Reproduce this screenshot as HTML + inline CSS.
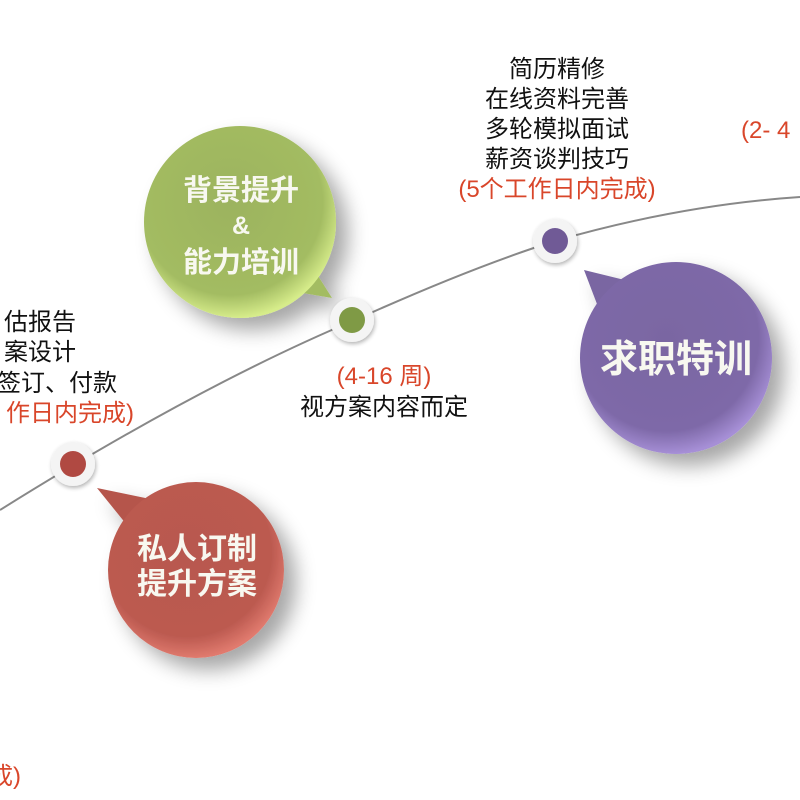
<!DOCTYPE html>
<html><head><meta charset="utf-8"><style>
html,body{margin:0;padding:0;background:#fff;width:800px;height:800px;overflow:hidden}
svg text{font-family:"Liberation Sans","Noto Sans CJK SC",sans-serif}
</style></head><body>
<svg width="800" height="800" viewBox="0 0 800 800" xmlns="http://www.w3.org/2000/svg">
<defs>
<radialGradient id="gr" cx="45%" cy="40%" r="60%"><stop offset="0" stop-color="#b8594f"/><stop offset="0.8" stop-color="#bc5a50"/><stop offset="1" stop-color="#e07a6e"/></radialGradient>
<radialGradient id="gg" cx="45%" cy="40%" r="60%"><stop offset="0" stop-color="#9cb35e"/><stop offset="0.8" stop-color="#a3bc62"/><stop offset="1" stop-color="#d6ec8a"/></radialGradient>
<radialGradient id="gp" cx="45%" cy="40%" r="60%"><stop offset="0" stop-color="#7a66a2"/><stop offset="0.8" stop-color="#7e69a8"/><stop offset="1" stop-color="#a68fd6"/></radialGradient>
<filter id="sh" x="-30%" y="-30%" width="170%" height="170%"><feGaussianBlur in="SourceAlpha" stdDeviation="10"/><feOffset dx="12" dy="12"/><feComponentTransfer><feFuncA type="linear" slope="0.35"/></feComponentTransfer><feMerge><feMergeNode/><feMergeNode in="SourceGraphic"/></feMerge></filter>
<filter id="ds" x="-50%" y="-50%" width="200%" height="200%"><feGaussianBlur in="SourceAlpha" stdDeviation="2"/><feOffset dx="1" dy="2"/><feComponentTransfer><feFuncA type="linear" slope="0.3"/></feComponentTransfer><feMerge><feMergeNode/><feMergeNode in="SourceGraphic"/></feMerge></filter>
</defs>
<path d="M0,510 Q200,385 355,320 Q470,268 555,241 Q680,205 800,197" fill="none" stroke="#888" stroke-width="2"/>

<g filter="url(#sh)">
<path d="M97,488 L155,500 L135,535 Z" fill="#b5554c"/>
<circle cx="196" cy="570" r="88" fill="url(#gr)"/>
</g>
<g filter="url(#sh)">
<path d="M332,298 L285,290 L305,255 Z" fill="#a3bc62"/>
<circle cx="240" cy="222" r="96" fill="url(#gg)"/>
</g>
<g filter="url(#sh)">
<path d="M584,270 L645,285 L605,325 Z" fill="#7a66a2"/>
<circle cx="676" cy="358" r="96" fill="url(#gp)"/>
</g>

<g filter="url(#ds)">
<circle cx="73" cy="464" r="22" fill="#f4f4f4"/><circle cx="73" cy="464" r="13" fill="#b04a43"/>
<circle cx="352" cy="320" r="22" fill="#f4f4f4"/><circle cx="352" cy="320" r="13" fill="#7f9a45"/>
<circle cx="555" cy="241" r="22" fill="#f4f4f4"/><circle cx="555" cy="241" r="13" fill="#6f5a96"/>
</g>

<g fill="#f8f8f0" font-weight="bold" text-anchor="middle">
<text x="197" y="559" font-size="30">私人订制</text>
<text x="197" y="594" font-size="30">提升方案</text>
<text x="241" y="200" font-size="29">背景提升</text>
<text x="241" y="234" font-size="25">&amp;</text>
<text x="241" y="272" font-size="29">能力培训</text>
<text x="676" y="372" font-size="38">求职特训</text>
</g>

<g font-size="24" fill="#111" text-anchor="end">
<text x="76" y="330">估报告</text>
<text x="76" y="360">案设计</text>
<text x="117" y="391">签订、付款</text>
<text x="134" y="421" fill="#d9462a">作日内完成)</text>
</g>
<text x="21" y="784" font-size="24" fill="#d9462a" text-anchor="end">成)</text>

<text x="384" y="384" font-size="24" fill="#d9462a" text-anchor="middle">(4-16 周)</text>
<text x="384" y="415" font-size="24" fill="#111" text-anchor="middle">视方案内容而定</text>

<g font-size="24" fill="#111" text-anchor="middle">
<text x="557" y="77">简历精修</text>
<text x="557" y="107">在线资料完善</text>
<text x="557" y="137">多轮模拟面试</text>
<text x="557" y="167">薪资谈判技巧</text>
<text x="557" y="197" fill="#d9462a">(5个工作日内完成)</text>
</g>
<text x="741" y="138" font-size="24" fill="#d9462a">(2- 4</text>
</svg>
</body></html>
